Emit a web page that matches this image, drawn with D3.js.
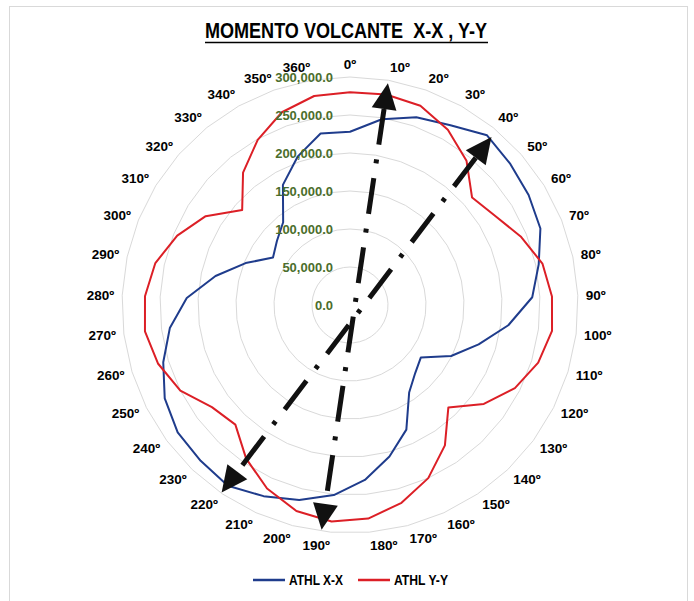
<!DOCTYPE html>
<html><head><meta charset="utf-8">
<script src="https://cdn.jsdelivr.net/npm/d3@7"></script>
<style>
body{margin:0;background:#fff;}
svg{display:block;}
text{font-family:"Liberation Sans Narrow","Arial Narrow","Liberation Sans",Arial,sans-serif;}
</style></head><body>
<svg id="chart" width="694" height="601"></svg>
<script>
// ---- data ----
const chartTitle = "MOMENTO VOLCANTE  X-X , Y-Y";
const categories = ["0º","10º","20º","30º","40º","50º","60º","70º","80º","90º",
  "100º","110º","120º","130º","140º","150º","160º","170º","180º","190º",
  "200º","210º","220º","230º","240º","250º","260º","270º","280º","290º",
  "300º","310º","320º","330º","340º","350º","360º"];
const seriesNames = ["ATHL X-X","ATHL Y-Y"];
const athlXX = [228000,248000,262000,271000,287000,281000,276000,270000,254000,240000,
  210000,177000,149000,116000,124000,139000,180000,206000,231000,251000,
  265000,276000,287000,284000,282000,273000,257000,239000,215000,181000,
  148000,119000,128000,140000,181000,207000,229000];
const athlYY = [280000,281000,278000,264000,244000,214000,224000,242000,259000,266000,
  268000,259000,243000,219000,187000,223000,250000,269000,282000,286000,
  280000,265000,244000,218000,226000,250000,264000,272000,270000,262000,
  245000,223000,189000,224000,249000,269000,279000];
const valueTicks = [0,50000,100000,150000,200000,250000,300000];
// annotation arrows (angle in degrees, value)
const arrowFromAngles = [187.2, 214.4];
const arrowFromValues = [298000, 299000];
const arrowToAngles   = [9.7, 40.1];
const arrowToValues   = [296000, 289000];

// ---- layout ----
const cx = 350, cy = 305, R = 228;
const colors = ["#1f3c8c", "#dc1f26"];
const svg = d3.select("#chart");

const rScale = d3.scaleLinear().domain([0, 300000]).range([0, R]);
const aScale = d3.scaleLinear().domain([0, categories.length]).range([0, 2 * Math.PI]);
const fmt = d3.format(",.1f");

// frame
svg.append("rect").attr("x", 9.5).attr("y", 6.5).attr("width", 678).attr("height", 640)
  .attr("fill", "none").attr("stroke", "#d9d9d9").attr("stroke-width", 1);

// title
svg.append("text").attr("x", 346).attr("y", 38)
  .attr("text-anchor", "middle").attr("font-size", 22).attr("font-weight", "bold")
  .attr("fill", "#000").attr("textLength", 282).attr("lengthAdjust", "spacingAndGlyphs")
  .style("white-space", "pre").text(chartTitle);
svg.append("line").attr("x1", 205).attr("x2", 488).attr("y1", 42.5).attr("y2", 42.5)
  .attr("stroke", "#000").attr("stroke-width", 1.3);

const g = svg.append("g").attr("transform", `translate(${cx},${cy})`);

// gridlines (polygons)
const gridLine = d3.lineRadial().curve(d3.curveLinearClosed);
g.append("g").selectAll("path").data(valueTicks.filter(t => t > 0)).join("path")
  .attr("d", t => gridLine(categories.map((c, i) => [aScale(i), rScale(t)])))
  .attr("fill", "none").attr("stroke", "#d9d9d9").attr("stroke-width", 1);

// series
const radial = d3.lineRadial()
  .angle((d, i) => aScale(i))
  .radius(d => rScale(d))
  .curve(d3.curveLinearClosed);
[athlXX, athlYY].forEach((s, k) => {
  g.append("path").attr("d", radial(s)).attr("fill", "none")
    .attr("stroke", colors[k]).attr("stroke-width", 2).attr("stroke-linejoin", "round");
});

// value axis labels
g.append("g").selectAll("text").data(valueTicks).join("text")
  .attr("x", -17).attr("y", t => -rScale(t)).attr("dy", "0.35em")
  .attr("text-anchor", "end").attr("font-size", 13).attr("font-weight", "bold")
  .attr("fill", "#4b6e2c").style("font-family", "'Liberation Sans',Arial,sans-serif")
  .text(t => fmt(t));

// category labels
const lblR = R + 8, lblH = 10;
g.append("g").selectAll("text").data(categories).join("text")
  .each(function (c, i) {
    const a = aScale(i), s = Math.sin(a), co = Math.cos(a);
    const px = lblR * s, py = -lblR * co - co * lblH / 2;
    d3.select(this).attr("x", px).attr("y", py).attr("dy", "0.35em")
      .attr("text-anchor", Math.abs(s) < 0.01 ? "middle" : (s > 0 ? "start" : "end"));
  })
  .attr("font-size", 13.5).attr("font-weight", "bold").attr("fill", "#000")
  .style("font-family", "'Liberation Sans',Arial,sans-serif")
  .text(c => c);

// arrows
function polar(angDeg, v) {
  const a = angDeg * Math.PI / 180, r = rScale(v);
  return [r * Math.sin(a), -r * Math.cos(a)];
}
const headLen = 26, headW = 25;
arrowToAngles.forEach((ta, k) => {
  const p1 = polar(ta, arrowToValues[k]);                       // top tip
  const p2 = polar(arrowFromAngles[k], arrowFromValues[k]);     // bottom tip
  const dx = p2[0] - p1[0], dy = p2[1] - p1[1], L = Math.hypot(dx, dy);
  const ux = dx / L, uy = dy / L, nx = -uy, ny = ux;
  const s = [p1[0] + ux * headLen, p1[1] + uy * headLen];
  const e = [p2[0] - ux * headLen, p2[1] - uy * headLen];
  g.append("line").attr("x1", s[0]).attr("y1", s[1]).attr("x2", e[0]).attr("y2", e[1])
    .attr("stroke", "#111").attr("stroke-width", 5).attr("stroke-dasharray", "36 15 4 15");
  [[p1, s], [p2, e]].forEach(([tip, base]) => {
    const pts = [tip, [base[0] + nx * headW / 2, base[1] + ny * headW / 2],
                 [base[0] - nx * headW / 2, base[1] - ny * headW / 2]];
    g.append("path").attr("d", "M" + pts.map(p => p.join(",")).join("L") + "Z").attr("fill", "#111");
  });
});

// legend
const legX = [253, 358];
seriesNames.forEach((n, k) => {
  svg.append("line").attr("x1", legX[k]).attr("x2", legX[k] + 32).attr("y1", 580).attr("y2", 580)
    .attr("stroke", colors[k]).attr("stroke-width", 2.5);
  svg.append("text").attr("x", legX[k] + 36).attr("y", 580).attr("dy", "0.35em")
    .attr("font-size", 14).attr("font-weight", "bold").attr("fill", "#000")
    .attr("textLength", 54).attr("lengthAdjust", "spacingAndGlyphs").text(n);
});
</script>
</body></html>
